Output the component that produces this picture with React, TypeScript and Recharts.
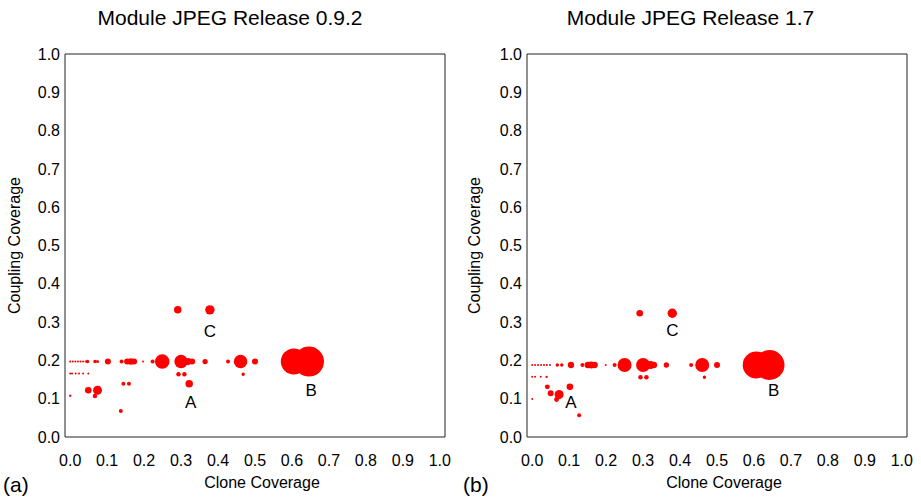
import { ScatterChart, Scatter, XAxis, YAxis, ZAxis, ReferenceArea, ReferenceDot } from 'recharts';

type Pt = { x: number; y: number; z: number };
type Note = { x: number; y: number; text: string };

const axisTicks = [0, 0.1, 0.2, 0.3, 0.4, 0.5, 0.6, 0.7, 0.8, 0.9, 1.0];

// x = clone coverage, y = coupling coverage, z = bubble weight (module size)
const release092Points: Pt[] = [
  { x: 0.0, y: 0.197, z: 1 }, { x: 0.007, y: 0.197, z: 1 }, { x: 0.014, y: 0.197, z: 1 },
  { x: 0.021, y: 0.197, z: 1 }, { x: 0.028, y: 0.197, z: 1 }, { x: 0.035, y: 0.197, z: 1 },
  { x: 0.042, y: 0.197, z: 1 }, { x: 0.047, y: 0.197, z: 3 }, { x: 0.067, y: 0.197, z: 3 },
  { x: 0.074, y: 0.197, z: 2.3 }, { x: 0.102, y: 0.197, z: 9 }, { x: 0.139, y: 0.197, z: 4 },
  { x: 0.154, y: 0.197, z: 9 }, { x: 0.164, y: 0.197, z: 11 }, { x: 0.173, y: 0.197, z: 9 },
  { x: 0.197, y: 0.197, z: 1 }, { x: 0.223, y: 0.197, z: 4 }, { x: 0.249, y: 0.197, z: 53 },
  { x: 0.3, y: 0.197, z: 45 }, { x: 0.319, y: 0.197, z: 12 }, { x: 0.33, y: 0.197, z: 9 },
  { x: 0.365, y: 0.197, z: 7 }, { x: 0.427, y: 0.197, z: 4 }, { x: 0.461, y: 0.197, z: 45 },
  { x: 0.5, y: 0.197, z: 9 }, { x: 0.605, y: 0.197, z: 169 }, { x: 0.646, y: 0.197, z: 225 },
  { x: 0.0, y: 0.166, z: 1 }, { x: 0.005, y: 0.166, z: 1 }, { x: 0.015, y: 0.166, z: 1 },
  { x: 0.024, y: 0.166, z: 1 }, { x: 0.035, y: 0.166, z: 1 }, { x: 0.049, y: 0.166, z: 1 },
  { x: 0.293, y: 0.164, z: 5 }, { x: 0.309, y: 0.164, z: 5 }, { x: 0.468, y: 0.164, z: 3 },
  { x: 0.144, y: 0.139, z: 4 }, { x: 0.159, y: 0.139, z: 4 }, { x: 0.322, y: 0.139, z: 14 },
  { x: 0.049, y: 0.122, z: 11 }, { x: 0.074, y: 0.122, z: 20 }, { x: 0.067, y: 0.107, z: 5 },
  { x: 0.0, y: 0.108, z: 1.4 }, { x: 0.137, y: 0.068, z: 4 },
  { x: 0.291, y: 0.332, z: 14 }, { x: 0.378, y: 0.332, z: 22 },
];

const release092Notes: Note[] = [
  { x: 0.378, y: 0.277, text: 'C' },
  { x: 0.326, y: 0.092, text: 'A' },
  { x: 0.652, y: 0.123, text: 'B' },
];

const release17Points: Pt[] = [
  { x: 0.0, y: 0.188, z: 1 }, { x: 0.008, y: 0.188, z: 1 }, { x: 0.016, y: 0.188, z: 1 },
  { x: 0.024, y: 0.188, z: 1 }, { x: 0.032, y: 0.188, z: 1 }, { x: 0.04, y: 0.188, z: 1 },
  { x: 0.048, y: 0.188, z: 1 }, { x: 0.068, y: 0.188, z: 3 }, { x: 0.08, y: 0.188, z: 3 },
  { x: 0.105, y: 0.188, z: 10 }, { x: 0.136, y: 0.188, z: 4 }, { x: 0.151, y: 0.188, z: 11 },
  { x: 0.16, y: 0.188, z: 12 }, { x: 0.169, y: 0.188, z: 10 }, { x: 0.199, y: 0.188, z: 1 },
  { x: 0.223, y: 0.188, z: 4 }, { x: 0.25, y: 0.188, z: 49 }, { x: 0.3, y: 0.188, z: 49 },
  { x: 0.32, y: 0.188, z: 16 }, { x: 0.329, y: 0.188, z: 11 }, { x: 0.363, y: 0.188, z: 7 },
  { x: 0.43, y: 0.188, z: 4 }, { x: 0.46, y: 0.188, z: 49 }, { x: 0.5, y: 0.188, z: 9 },
  { x: 0.606, y: 0.188, z: 182 }, { x: 0.642, y: 0.188, z: 225 },
  { x: 0.0, y: 0.157, z: 1 }, { x: 0.008, y: 0.157, z: 1 }, { x: 0.023, y: 0.157, z: 1 },
  { x: 0.039, y: 0.157, z: 1.4 }, { x: 0.293, y: 0.156, z: 5 }, { x: 0.309, y: 0.156, z: 5 },
  { x: 0.466, y: 0.156, z: 3 },
  { x: 0.041, y: 0.131, z: 6 }, { x: 0.102, y: 0.131, z: 11 }, { x: 0.05, y: 0.114, z: 9 },
  { x: 0.073, y: 0.111, z: 20 }, { x: 0.066, y: 0.098, z: 6 }, { x: 0.0, y: 0.099, z: 1 },
  { x: 0.127, y: 0.057, z: 4 },
  { x: 0.291, y: 0.323, z: 11 }, { x: 0.379, y: 0.323, z: 22 },
];

const release17Notes: Note[] = [
  { x: 0.379, y: 0.279, text: 'C' },
  { x: 0.105, y: 0.092, text: 'A' },
  { x: 0.653, y: 0.123, text: 'B' },
];

const X_DOMAIN: [number, number] = [-0.014, 1.014];
const FONT = '"Liberation Sans", Arial, Helvetica, sans-serif';

function YTitle({ viewBox }: any) {
  const x = viewBox.x + 14;
  const y = viewBox.y + viewBox.height / 2;
  return (
    <text x={x} y={y} transform={`rotate(-90 ${x} ${y})`} textAnchor="middle" dominantBaseline="central" fontSize={16} fill="#000">
      Coupling Coverage
    </text>
  );
}

function XTitle({ viewBox }: any) {
  const x = viewBox.x + viewBox.width / 2 + 7;
  return (
    <text x={x} y={viewBox.y + 51} textAnchor="middle" fontSize={16} fill="#000">
      Clone Coverage
    </text>
  );
}

function Panel({ left, width, axisWidth, title, tag, points, notes }: {
  left: number; width: number; axisWidth: number; title: string; tag: string; points: Pt[]; notes: Note[];
}) {
  const plotRight = axisWidth + 380;
  return (
    <div style={{ position: 'absolute', left, top: 0, width, height: 498 }}>
      <div style={{ position: 'absolute', left: 0, top: 6, width, textAlign: 'center', fontSize: 21, lineHeight: '24px' }}>
        {title}
      </div>
      <div style={{ position: 'absolute', left: 3, top: 473, fontSize: 21, lineHeight: '24px' }}>{tag}</div>
      <ScatterChart width={width} height={498} margin={{ top: 54, right: width - plotRight, bottom: 0, left: 0 }}>
        <XAxis
          dataKey="x"
          type="number"
          domain={X_DOMAIN}
          ticks={axisTicks}
          interval={0}
          allowDataOverflow
          height={61}
          axisLine={false}
          tickLine={false}
          tickSize={0}
          tickMargin={18}
          tick={{ fill: '#000', fontSize: 16 }}
          tickFormatter={(v) => Number(v).toFixed(1)}
          label={<XTitle />}
        />
        <YAxis
          dataKey="y"
          type="number"
          domain={[0, 1]}
          ticks={axisTicks}
          interval={0}
          width={axisWidth}
          axisLine={false}
          tickLine={false}
          tickSize={0}
          tickMargin={5}
          tick={{ fill: '#000', fontSize: 16 }}
          tickFormatter={(v) => Number(v).toFixed(1)}
          label={<YTitle />}
        />
        <ZAxis dataKey="z" type="number" domain={[0, 225]} range={[0, 707]} />
        <ReferenceArea x1={X_DOMAIN[0]} x2={X_DOMAIN[1]} y1={0} y2={1} fill="none" fillOpacity={0} stroke="#222" strokeWidth={1} />
        <Scatter data={points} fill="#ff0000" isAnimationActive={false} />
        {notes.map((n) => (
          <ReferenceDot
            key={n.text}
            x={n.x}
            y={n.y}
            r={0}
            fill="none"
            stroke="none"
            label={{ value: n.text, position: 'center', fill: '#000', fontSize: 17 }}
          />
        ))}
      </ScatterChart>
    </div>
  );
}

export default function App() {
  return (
    <div style={{ position: 'relative', width: 921, height: 498, background: '#fff', fontFamily: FONT, color: '#000' }}>
      <style>{'body{margin:0}'}</style>
      <Panel left={0} width={460} axisWidth={65} title="Module JPEG Release 0.9.2" tag="(a)" points={release092Points} notes={release092Notes} />
      <Panel left={460} width={461} axisWidth={67} title="Module JPEG Release 1.7" tag="(b)" points={release17Points} notes={release17Notes} />
    </div>
  );
}
